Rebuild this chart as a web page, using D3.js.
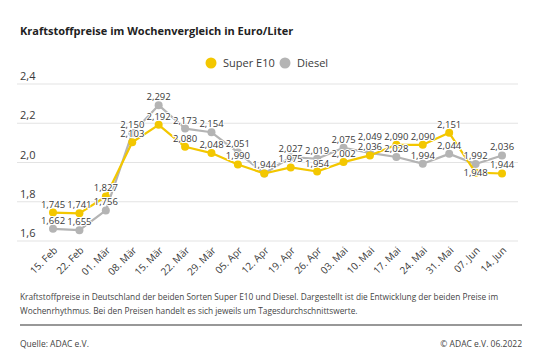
<!DOCTYPE html>
<html>
<head>
<meta charset="utf-8">
<script src="https://cdn.jsdelivr.net/npm/d3@7"></script>
<style>
  body { margin: 0; background: #fff; }
  svg text { font-family: "Open Sans", "Noto Sans", sans-serif; fill: #3a3a3a; }
  .lbl { paint-order: stroke; stroke: #fff; stroke-width: 2px; stroke-linejoin: round; }
</style>
</head>
<body>
<div class="chart"></div>
<script>
// Chart data.
const dates = ['15. Feb', '22. Feb', '01. Mär', '08. Mär', '15. Mär', '22. Mär', '29. Mär', '05. Apr', '12. Apr',
    '19. Apr', '26. Apr', '03. Mai', '10. Mai', '17. Mai', '24. Mai', '31. Mai', '07. Jun', '14. Jun'];
const superE10 = [1.745, 1.741, 1.827, 2.103, 2.192, 2.080, 2.048, 1.990, 1.944,
    1.975, 1.954, 2.002, 2.036, 2.090, 2.090, 2.151, 1.948, 1.944];
const diesel = [1.662, 1.655, 1.756, 2.150, 2.292, 2.173, 2.154, 2.051, 1.944,
    2.027, 2.019, 2.075, 2.049, 2.028, 1.994, 2.044, 1.992, 2.036];
const yTicks = [1.6, 1.8, 2.0, 2.2, 2.4];

const width = 544, height = 351;
const colors = { e10: '#f3c700', diesel: '#b4b4b4' };

const de = d3.formatLocale({ decimal: ',', thousands: '.', grouping: [3], currency: ['', '€'] });
const fmt1 = de.format('.1f'), fmt3 = de.format('.3f');

const svg = d3.select('.chart').append('svg')
    .attr('width', width)
    .attr('height', height);

// Scales.
const x = d3.scalePoint().domain(dates).range([53, 502]);
const y = d3.scaleLinear().domain([1.6, 2.4]).range([241, 84]);

// Title.
svg.append('text')
    .attr('x', 20).attr('y', 35)
    .attr('font-size', 11).attr('font-weight', 700)
    .style('fill', '#222')
    .text('Kraftstoffpreise im Wochenvergleich in Euro/Liter');

// Legend.
const legend = svg.append('g');
[['Super E10', colors.e10, 211], ['Diesel', colors.diesel, 285]].forEach(([name, c, lx]) => {
    legend.append('circle').attr('cx', lx).attr('cy', 63).attr('r', 5.5).attr('fill', c);
    legend.append('text').attr('x', lx + 12).attr('y', 67).attr('font-size', 11).text(name);
});

// Grid + y labels.
const grid = svg.append('g');
grid.selectAll('line').data(yTicks).join('line')
    .attr('x1', 17).attr('x2', 518)
    .attr('y1', d => y(d)).attr('y2', d => y(d))
    .attr('stroke', '#e3e3e3').attr('stroke-width', 1);
grid.selectAll('text').data(yTicks).join('text')
    .attr('x', 20).attr('y', d => y(d) - 4)
    .attr('font-size', 11)
    .text(d => fmt1(d));

// X labels.
svg.append('g').selectAll('text').data(dates).join('text')
    .attr('font-size', 10)
    .attr('text-anchor', 'end')
    .attr('transform', d => `translate(${x(d) + 5},${251}) rotate(-45)`)
    .text(d => d);

// Series.
const series = [
    { key: 'diesel', values: diesel, color: colors.diesel },
    { key: 'e10', values: superE10, color: colors.e10 }
];
const line = d3.line().x((d, i) => x(dates[i])).y(d => y(d));

series.forEach(s => {
    svg.append('path')
        .datum(s.values)
        .attr('fill', 'none')
        .attr('stroke', s.color)
        .attr('stroke-width', 2.2)
        .attr('stroke-linejoin', 'round')
        .attr('d', line);
    svg.append('g').selectAll('circle').data(s.values).join('circle')
        .attr('cx', (d, i) => x(dates[i]))
        .attr('cy', d => y(d))
        .attr('r', 4)
        .attr('fill', s.color);
});

// Value labels (a couple nudged to avoid overlaps).
function labelShift(key, i) {
    if (key === 'diesel' && dates[i] === '10. Mai') return -8;
    if (key === 'e10' && dates[i] === '07. Jun') return 8;
    return 0;
}
series.forEach(s => {
    svg.append('g').selectAll('text').data(s.values).join('text')
        .attr('class', 'lbl')
        .attr('font-size', 9.5)
        .attr('text-anchor', 'middle')
        .attr('x', (d, i) => x(dates[i]))
        .attr('y', (d, i) => y(d) - 5 + labelShift(s.key, i))
        .text(d => fmt3(d));
});

// Footer.
const note = svg.append('text').attr('font-size', 8.3).style('fill', '#444');
note.append('tspan').attr('x', 20).attr('y', 300)
    .text('Kraftstoffpreise in Deutschland der beiden Sorten Super E10 und Diesel. Dargestellt ist die Entwicklung der beiden Preise im');
note.append('tspan').attr('x', 20).attr('y', 314)
    .text('Wochenrhythmus. Bei den Preisen handelt es sich jeweils um Tagesdurchschnittswerte.');

svg.append('line')
    .attr('x1', 20).attr('x2', 522).attr('y1', 325).attr('y2', 325)
    .attr('stroke', '#333').attr('stroke-width', 1.2);

svg.append('text').attr('x', 20).attr('y', 347).attr('font-size', 8.5).style('fill', '#444')
    .text('Quelle: ADAC e.V.');
svg.append('text').attr('x', 522).attr('y', 347).attr('font-size', 8.5).style('fill', '#444')
    .attr('text-anchor', 'end')
    .text('© ADAC e.V. 06.2022');
</script>
</body>
</html>
